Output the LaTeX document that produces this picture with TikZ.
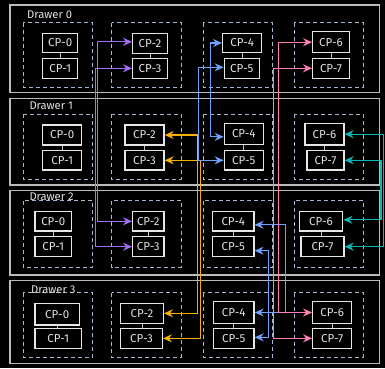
\documentclass[tikz,border=0pt]{standalone}
\usepackage{fontspec}
\setmainfont{Fira Sans}
\usetikzlibrary{arrows.meta}
\definecolor{drawgray}{HTML}{BBBBBB}
\definecolor{dashcol}{HTML}{A6B8D4}
\definecolor{cpwhite}{HTML}{E6E6E6}
\definecolor{txtcol}{HTML}{E2E2E2}
\definecolor{purpc}{HTML}{A56EFF}
\definecolor{bluec}{HTML}{6EA2FF}
\definecolor{pinkc}{HTML}{FF7EB6}
\definecolor{orangec}{HTML}{F5B000}
\definecolor{tealc}{HTML}{0AB8B6}
\tikzset{
  drawerbox/.style={draw=drawgray, line width=1.3pt},
  groupbox/.style={draw=dashcol, line width=1pt, dash pattern=on 4pt off 3pt},
  cpbox/.style={draw=cpwhite, fill=black, line width=1.3pt, text=txtcol, inner sep=0pt,
    font=\fontsize{11.5}{12}\selectfont},
  drawerlbl/.style={text=txtcol, anchor=base west, inner sep=0pt, font=\fontsize{11.2}{12}\selectfont},
  pairline/.style={draw=cpwhite!85!black, line width=1pt},
  link/.style={line width=1.3pt, {Stealth[length=9pt,width=8pt,inset=3pt]}-{Stealth[length=9pt,width=8pt,inset=3pt]}}
}
\newcommand{\cpnode}[6]{\node[cpbox, minimum width=#4pt, minimum height=#5pt] (#1) at (#2,#3) {#6};}
\begin{document}
\begin{tikzpicture}[x=1pt,y=-1pt]
\useasboundingbox[fill=black] (0,0) rectangle (385,368);
% drawers
\draw[drawerbox] (10,5) rectangle (379.3,92.5);
\draw[drawerbox] (10,98.5) rectangle (379.3,185);
\draw[drawerbox] (10,190.7) rectangle (379.3,275);
\draw[drawerbox] (10,280.7) rectangle (379.3,363.3);
% groups
\foreach \ya/\yb in {22.7/87.3, 114/179.3, 200.7/267.3, 292.7/357.3}{
  \draw[groupbox] (23.3,\ya) rectangle (92.7,\yb);
  \draw[groupbox] (111.7,\ya) rectangle (181,\yb);
  \draw[groupbox] (203.3,\ya) rectangle (272.7,\yb);
  \draw[groupbox] (294,\ya) rectangle (363.3,\yb);
}
% labels
\node[drawerlbl] (lbl0) at (27,18.3) {Drawer 0};
\node[drawerlbl] (lbl1) at (29.3,109.3) {Drawer 1};
\node[drawerlbl] (lbl2) at (29.3,200.5) {Drawer 2};
\node[drawerlbl] (lbl3) at (31,293.3) {Drawer 3};
% Drawer 0
\cpnode{d0cp0}{60.2}{43}{35}{19.4}{CP-0}
\cpnode{d0cp1}{60.2}{68.3}{35}{20}{CP-1}
\cpnode{d0cp2}{150}{43.3}{34.6}{20}{CP-2}
\cpnode{d0cp3}{150}{68.3}{34.6}{20}{CP-3}
\cpnode{d0cp4}{242.2}{43}{39}{19.4}{CP-4}
\cpnode{d0cp5}{241.8}{68.3}{35}{20}{CP-5}
\cpnode{d0cp6}{331}{42.2}{36.6}{21}{CP-6}
\cpnode{d0cp7}{331}{68.3}{36.6}{20}{CP-7}
% Drawer 1
\cpnode{d1cp0}{62.2}{135}{39}{20}{CP-0}
\cpnode{d1cp1}{62.2}{160.3}{39}{19.3}{CP-1}
\cpnode{d1cp2}{144.5}{135}{39}{20}{CP-2}
\cpnode{d1cp3}{144.5}{160.3}{39}{19.3}{CP-3}
\cpnode{d1cp4}{243.8}{133.8}{39}{21}{CP-4}
\cpnode{d1cp5}{243.8}{160.3}{39}{19.3}{CP-5}
\cpnode{d1cp6}{324.5}{134.2}{39}{21.7}{CP-6}
\cpnode{d1cp7}{325.5}{160.3}{37}{19.3}{CP-7}
% Drawer 2
\cpnode{d2cp0}{53.3}{221.3}{36.7}{19.3}{CP-0}
\cpnode{d2cp1}{53.3}{246.7}{36.7}{20}{CP-1}
\cpnode{d2cp2}{148.3}{221.3}{31.3}{19.3}{CP-2}
\cpnode{d2cp3}{148.3}{246.7}{31.3}{20}{CP-3}
\cpnode{d2cp4}{233.3}{221.3}{41.3}{19.3}{CP-4}
\cpnode{d2cp5}{233.3}{246.7}{41.3}{20}{CP-5}
\cpnode{d2cp6}{321}{221.3}{43.4}{19.3}{CP-6}
\cpnode{d2cp7}{322.5}{246.7}{43}{20}{CP-7}
% Drawer 3
\cpnode{d3cp0}{57.2}{314.2}{44.3}{21.7}{CP-0}
\cpnode{d3cp1}{58.3}{338.3}{46.7}{20}{CP-1}
\cpnode{d3cp2}{142}{313.3}{42.6}{20}{CP-2}
\cpnode{d3cp3}{141.5}{338.3}{41.6}{20}{CP-3}
\cpnode{d3cp4}{233.7}{312.5}{40.7}{21.6}{CP-4}
\cpnode{d3cp5}{233.7}{338.3}{40.7}{20}{CP-5}
\cpnode{d3cp6}{332.2}{312.5}{39}{21.6}{CP-6}
\cpnode{d3cp7}{332.2}{338.3}{39}{20}{CP-7}
% pair lines
\foreach \d in {0,1,2,3}{
  \foreach \a/\b in {0/1,2/3,4/5,6/7}{
    \draw[pairline] (d\d cp\a.south) -- (d\d cp\a.south |- d\d cp\b.north);
  }
}
% channel x positions
\coordinate (xpu1) at (97.5,0);
\coordinate (xpu2) at (95.5,0);
\coordinate (xor1) at (197.5,0);
\coordinate (xor2) at (200.5,0);
\coordinate (xbl1) at (210.5,0);
\coordinate (xbl2) at (198.5,0);
\coordinate (xbl3) at (285.5,0);
\coordinate (xbl4) at (268.5,0);
\coordinate (xpk1) at (278.5,0);
\coordinate (xpk2) at (273.5,0);
\coordinate (xte1) at (383.5,0);
\coordinate (xte2) at (381,0);
% shifted end points
\coordinate (pu1a) at ([yshift=1.5pt]d0cp2.west);
\coordinate (bl1b) at ([yshift=-3pt]d1cp4.west);
\coordinate (bl2a) at ([yshift=1pt]d0cp5.west);
\coordinate (bl3a) at ([yshift=-3.5pt]d2cp4.east);
\coordinate (bl4a) at ([yshift=-4pt]d2cp5.east);
\coordinate (bl4b) at ([yshift=1pt]d3cp5.east);
\coordinate (te2b) at ([yshift=1.5pt]d2cp6.east);
% links
\draw[link, purpc] (pu1a) -| (xpu1 |- d2cp2.west) -- (d2cp2.west);
\draw[link, purpc] (d0cp3.west) -| (xpu2 |- d2cp3.west) -- (d2cp3.west);
\draw[link, orangec] (d1cp2.east) -| (xor1 |- d3cp2.east) -- (d3cp2.east);
\draw[link, orangec] (d1cp3.east) -| (xor2 |- d3cp3.east) -- (d3cp3.east);
\draw[link, bluec] (d0cp4.west) -| (xbl1 |- bl1b) -- (bl1b);
\draw[link, bluec] (bl2a) -| (xbl2 |- d1cp5.west) -- (d1cp5.west);
\draw[link, bluec] (bl3a) -| (xbl3 |- d3cp4.east) -- (d3cp4.east);
\draw[link, bluec] (bl4a) -| (xbl4 |- bl4b) -- (bl4b);
\draw[link, pinkc] (d0cp6.west) -| (xpk1 |- d3cp6.west) -- (d3cp6.west);
\draw[link, pinkc] (d0cp7.west) -| (xpk2 |- d3cp7.west) -- (d3cp7.west);
\draw[link, tealc] (d1cp6.east) -| (xte1 |- d2cp7.east) -- (d2cp7.east);
\draw[link, tealc] (d1cp7.east) -| (xte2 |- te2b) -- (te2b);
\end{tikzpicture}
\end{document}
